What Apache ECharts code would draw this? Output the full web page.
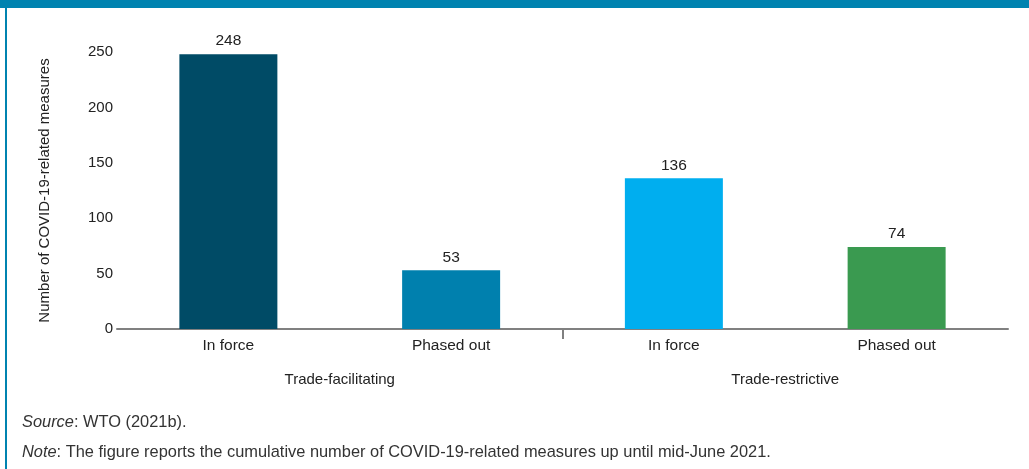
<!DOCTYPE html>
<html>
<head>
<meta charset="utf-8">
<script src="https://cdn.jsdelivr.net/npm/echarts@6/dist/echarts.min.js"></script>
<style>
html,body{margin:0;padding:0;background:#fff;}
#chart{width:1029px;height:469px;}
</style>
</head>
<body>
<div id="chart"></div>
<script>
var categories = ['In force', 'Phased out', 'In force', 'Phased out'];
var groups = ['Trade-facilitating', 'Trade-restrictive'];
var values = [248, 53, 136, 74];
var barColors = ['#004b66', '#0080ae', '#00aeef', '#3a9a50'];
var yTicks = [0, 50, 100, 150, 200, 250];
var yAxisTitle = 'Number of COVID-19-related measures';
var sourceText = 'WTO (2021b).';
var noteText = 'The figure reports the cumulative number of COVID-19-related measures up until mid-June 2021.';

var font = '"Liberation Sans", Arial, sans-serif';
var chart = echarts.init(document.getElementById('chart'), null, {renderer: 'canvas'});
var footSize = 16.4;

var option = {
  animation: false,
  backgroundColor: '#ffffff',
  textStyle: {fontFamily: font},
  title: [
    {left: 17, top: 409, text: '{i|Source}: ' + sourceText,
     textStyle: {fontFamily: font, fontSize: footSize, fontWeight: 'normal', color: '#333',
       rich: {i: {fontStyle: 'italic', fontSize: footSize, fontFamily: font, color: '#333'}}}},
    {left: 17, top: 439, text: '{i|Note}: ' + noteText,
     textStyle: {fontFamily: font, fontSize: footSize, fontWeight: 'normal', color: '#333',
       rich: {i: {fontStyle: 'italic', fontSize: footSize, fontFamily: font, color: '#333'}}}}
  ],
  graphic: [
    {type: 'rect', left: 0, top: 0, shape: {width: 1029, height: 8}, style: {fill: '#0083b0'}, silent: true},
    {type: 'rect', left: 5, top: 8, shape: {width: 2, height: 461}, style: {fill: '#0083b0'}, silent: true}
  ],
  grid: {left: 117, right: 21, top: 52, bottom: 140, containLabel: false},
  xAxis: [
    {
      type: 'category', data: categories, position: 'bottom',
      axisLine: {show: true, lineStyle: {color: '#808080', width: 2}},
      axisTick: {show: false},
      axisLabel: {color: '#222', fontSize: 15.5, margin: 9, fontFamily: font}
    },
    {
      type: 'category', data: groups, position: 'bottom', offset: 34,
      axisLine: {show: false}, axisTick: {show: false},
      axisLabel: {color: '#222', fontSize: 15, margin: 9, fontFamily: font}
    },
    {
      type: 'category', data: ['', '', ''], position: 'bottom', boundaryGap: false,
      axisLine: {show: false},
      axisTick: {show: true, length: 10, lineStyle: {color: '#808080', width: 2},
        interval: function (idx) { return idx === 1; }},
      axisLabel: {show: false}
    }
  ],
  yAxis: {
    type: 'value', min: 0, max: 250, interval: 50,
    name: yAxisTitle, nameLocation: 'middle', nameGap: 65, nameRotate: 90,
    nameTextStyle: {color: '#222', fontSize: 15, fontFamily: font},
    axisLine: {show: false}, axisTick: {show: false},
    splitLine: {show: false},
    axisLabel: {color: '#222', fontSize: 15, margin: 4, fontFamily: font,
      formatter: function (v) { return yTicks.indexOf(v) >= 0 ? String(v) : ''; }}
  },
  series: [{
    type: 'bar', xAxisIndex: 0, barWidth: 98,
    data: values.map(function (v, i) { return {value: v, itemStyle: {color: barColors[i]}}; }),
    label: {show: true, position: 'top', distance: 5, color: '#222', fontSize: 15.5, fontFamily: font}
  }]
};
chart.setOption(option);
</script>
</body>
</html>
